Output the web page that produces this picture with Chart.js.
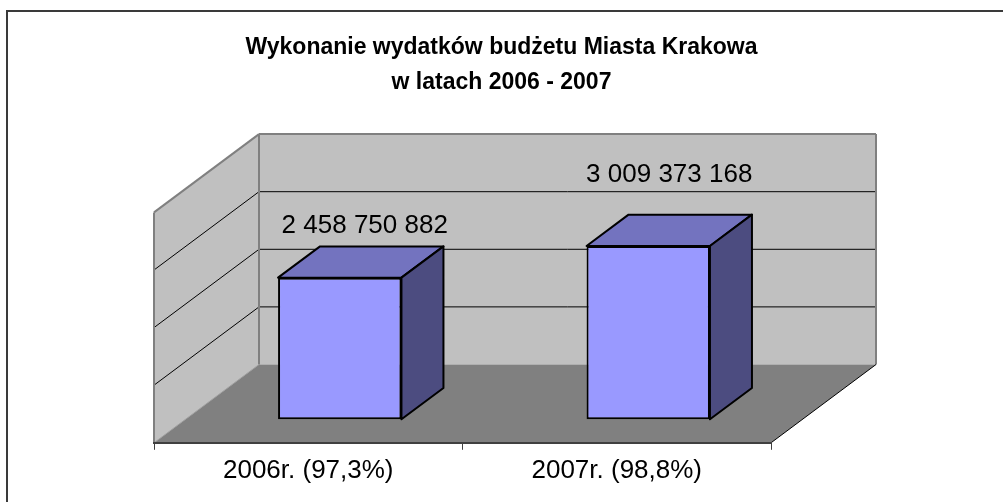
<!DOCTYPE html>
<html><head><meta charset="utf-8">
<script src="https://cdn.jsdelivr.net/npm/chart.js@4.4.1/dist/chart.umd.min.js"></script>
<style>html,body{margin:0;padding:0;background:#fff;overflow:hidden}#wrap{width:1003px;height:502px;position:relative}</style>
</head><body><div id="wrap"><canvas id="c" width="1003" height="502"></canvas></div>
<script>
const titleLines = ['Wykonanie wydatków budżetu Miasta Krakowa', 'w latach 2006 - 2007'];
const categories = ['2006r. (97,3%)', '2007r. (98,8%)'];
const expenditures = [2458750882, 3009373168];
const axisMax = 4000000000;
const gridStep = 1000000000;

const FONT = '"Liberation Sans", Arial, Helvetica, sans-serif';
const fmt = v => String(v).replace(/\B(?=(\d{3})+(?!\d))/g, ' ');

// perspective offsets (styling)
const BOX = {dx: 105, dy: -78.3};
const BAR_OFF = {dx: 31.5, dy: -23.5};
const BAR_DEPTH = {dx: 42, dy: -31.3};
const LABEL_SHIFT = [{dx: 25, rise: 13}, {dx: 21, rise: 33}];

function poly(ctx, pts, fill, stroke, lw) {
  ctx.beginPath();
  ctx.moveTo(pts[0][0], pts[0][1]);
  for (let i = 1; i < pts.length; i++) ctx.lineTo(pts[i][0], pts[i][1]);
  ctx.closePath();
  if (fill) { ctx.fillStyle = fill; ctx.fill(); }
  if (stroke) { ctx.strokeStyle = stroke; ctx.lineWidth = lw; ctx.stroke(); }
}
function line(ctx, x1, y1, x2, y2, color, lw) {
  ctx.beginPath(); ctx.moveTo(x1, y1); ctx.lineTo(x2, y2);
  ctx.strokeStyle = color; ctx.lineWidth = lw; ctx.stroke();
}

const box3d = {
  id: 'box3d',
  beforeDraw(chart) {
    const {ctx, chartArea: a, scales: {y}} = chart;
    ctx.save();
    ctx.fillStyle = '#fff';
    ctx.fillRect(0, 0, chart.width, chart.height);
    ctx.strokeStyle = '#3a3a3a'; ctx.lineWidth = 2;
    ctx.strokeRect(7, 11, chart.width + 20, chart.height + 20);

    const L = a.left, R = a.right, B = y.getPixelForValue(0), T = y.getPixelForValue(axisMax);
    const dx = BOX.dx, dy = BOX.dy;
    poly(ctx, [[L, B], [L, T], [L + dx, T + dy], [L + dx, B + dy]], '#c0c0c0');
    poly(ctx, [[L + dx, T + dy], [R + dx, T + dy], [R + dx, B + dy], [L + dx, B + dy]], '#c0c0c0');
    poly(ctx, [[L, B], [R, B], [R + dx, B + dy], [L + dx, B + dy]], '#808080');
    for (let v = gridStep; v < axisMax; v += gridStep) {
      const yy = y.getPixelForValue(v);
      line(ctx, L, yy, L + dx, yy + dy, '#000', 1);
      line(ctx, L + dx, yy + dy, R + dx, yy + dy, '#000', 1);
    }
    line(ctx, L, B, L, T, '#808080', 2);
    line(ctx, L, T, L + dx, T + dy, '#808080', 2);
    line(ctx, L + dx, T + dy, R + dx, T + dy, '#808080', 2);
    line(ctx, R + dx, T + dy, R + dx, B + dy, '#808080', 2);
    line(ctx, L + dx, T + dy, L + dx, B + dy, '#808080', 2);
    line(ctx, L, B, L + dx, B + dy, '#a0a0a0', 1);
    line(ctx, R, B, R + dx, B + dy, '#000', 1);
    ctx.restore();
  },
  beforeDatasetDraw(chart) {
    chart.ctx.save();
    chart.ctx.translate(BAR_OFF.dx, BAR_OFF.dy);
  },
  afterDatasetDraw(chart) {
    chart.ctx.restore();
  },
  afterDatasetsDraw(chart) {
    const ctx = chart.ctx;
    const meta = chart.getDatasetMeta(0);
    ctx.save();
    ctx.lineJoin = 'round';
    meta.data.forEach((bar, i) => {
      const p = bar.getProps(['x', 'y', 'base', 'width'], true);
      const x0 = p.x - p.width / 2 + BAR_OFF.dx, x1 = p.x + p.width / 2 + BAR_OFF.dx;
      const t = p.y + BAR_OFF.dy, b = p.base + BAR_OFF.dy;
      const ddx = BAR_DEPTH.dx, ddy = BAR_DEPTH.dy;
      poly(ctx, [[x0, t], [x1, t], [x1 + ddx, t + ddy], [x0 + ddx, t + ddy]], '#7373bf', '#000', 2);
      poly(ctx, [[x1, t], [x1 + ddx, t + ddy], [x1 + ddx, b + ddy], [x1, b]], '#4c4c80', '#000', 2);
      const s = LABEL_SHIFT[i];
      ctx.fillStyle = '#000';
      ctx.font = '26px ' + FONT;
      ctx.textAlign = 'center';
      ctx.textBaseline = 'alphabetic';
      ctx.fillText(fmt(expenditures[i]), p.x + BAR_OFF.dx + s.dx, t + ddy - s.rise);
    });
    ctx.restore();
  }
};

new Chart(document.getElementById('c'), {
  type: 'bar',
  data: {
    labels: categories,
    datasets: [{
      data: expenditures,
      backgroundColor: '#9999ff',
      borderColor: '#000',
      borderWidth: 2,
      borderSkipped: false,
      categoryPercentage: 1,
      barPercentage: 0.4,
      clip: false
    }]
  },
  options: {
    responsive: false,
    animation: false,
    events: [],
    layout: {padding: {left: 0, right: 0, top: 0, bottom: 11}},
    plugins: {
      legend: {display: false},
      tooltip: {enabled: false},
      title: {
        display: true,
        text: titleLines,
        color: '#000',
        font: {family: FONT, size: 23, weight: 'bold', lineHeight: 35 / 23},
        padding: {top: 30, bottom: 112.4}
      }
    },
    scales: {
      x: {
        grid: {display: true, drawOnChartArea: false, drawTicks: true, tickLength: 7, color: '#404040', lineWidth: 1},
        border: {display: true, color: '#404040', width: 2},
        ticks: {color: '#000', font: {family: FONT, size: 26}, padding: 5, maxRotation: 0, autoSkip: false}
      },
      y: {
        display: true, position: 'left', min: 0, max: axisMax,
        grid: {display: false}, border: {display: false}, ticks: {display: false},
        afterFit(s) { s.width = 154; }
      },
      yr: {
        type: 'linear', display: true, position: 'right',
        grid: {display: false}, border: {display: false}, ticks: {display: false},
        afterFit(s) { s.width = 232; }
      }
    }
  },
  plugins: [box3d]
});
</script></body></html>
